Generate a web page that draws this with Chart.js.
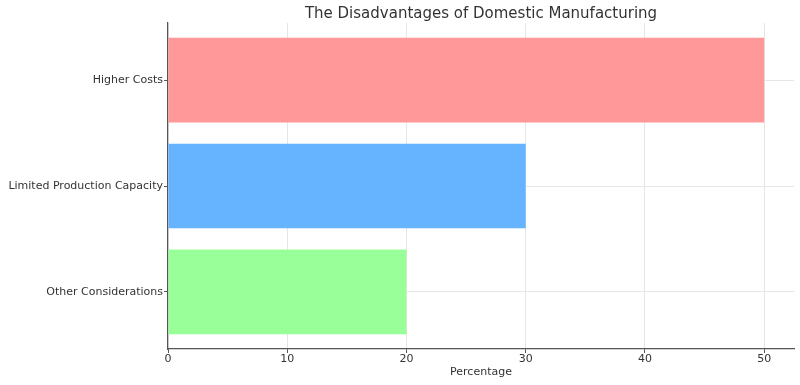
<!DOCTYPE html>
<html>
<head>
<meta charset="utf-8">
<script src="https://cdn.jsdelivr.net/npm/chart.js@4"></script>
<style>
  html, body { margin: 0; padding: 0; background: #fff; }
  #wrap { width: 800px; height: 385px; }
</style>
</head>
<body>
<div id="wrap"><canvas id="myChart" width="800" height="385"></canvas></div>
<script>
// reasons, top to bottom, and their share in percent
const categories = ['Higher Costs', 'Limited Production Capacity', 'Other Considerations'];
const percentages = [50, 30, 20];
const barColors = ['#ff9999', '#66b3ff', '#99ff99'];
const xTicks = [0, 10, 20, 30, 40, 50];

const textColor = '#333333';
const spineColor = '#555555';
const gridColor = '#e6e6e6';

// white background behind everything
const bgPlugin = {
  id: 'bg',
  beforeDraw(chart) {
    const ctx = chart.ctx;
    ctx.save();
    ctx.fillStyle = '#fff';
    ctx.fillRect(0, 0, chart.width, chart.height);
    ctx.restore();
  }
};

const ctx = document.getElementById('myChart').getContext('2d');
const myChart = new Chart(ctx, {
  type: 'bar',
  data: {
    datasets: [{
      data: percentages.map((v, i) => ({ x: v, y: i })),
      backgroundColor: barColors,
      borderWidth: 0,
      barPercentage: 0.8,
      categoryPercentage: 1
    }]
  },
  options: {
    indexAxis: 'y',
    responsive: false,
    animation: false,
    layout: { padding: { left: 0, right: 6, top: 0, bottom: 0 } },
    plugins: {
      legend: { display: false },
      tooltip: { enabled: false },
      title: {
        display: true,
        fullSize: false,
        text: 'The Disadvantages of Domestic Manufacturing',
        color: textColor,
        font: { family: 'DejaVu Sans', size: 15, weight: 'normal' },
        padding: { top: 5, bottom: 0 }
      }
    },
    scales: {
      x: {
        type: 'linear',
        min: 0,
        max: 52.5,
        afterBuildTicks: axis => { axis.ticks = xTicks.map(v => ({ value: v })); },
        afterFit: axis => { axis.height = 36; },
        ticks: {
          color: textColor,
          font: { family: 'DejaVu Sans', size: 11 },
          padding: 0,
          maxRotation: 0
        },
        grid: {
          color: gridColor,
          tickColor: spineColor,
          tickLength: 4
        },
        border: { color: spineColor, width: 1.2 },
        title: {
          display: true,
          text: 'Percentage',
          color: textColor,
          font: { family: 'DejaVu Sans', size: 11 },
          padding: { top: 0, bottom: 6 }
        }
      },
      y: {
        type: 'linear',
        reverse: true,
        offset: false,
        min: -0.54,
        max: 2.54,
        afterBuildTicks: axis => { axis.ticks = categories.map((c, i) => ({ value: i })); },
        afterFit: axis => { axis.width = 168; },
        ticks: {
          color: textColor,
          font: { family: 'DejaVu Sans', size: 11 },
          padding: 1,
          callback: v => categories[v]
        },
        grid: {
          offset: false,
          color: gridColor,
          tickColor: spineColor,
          tickLength: 4
        },
        border: { color: spineColor, width: 1.2 }
      }
    }
  },
  plugins: [bgPlugin]
});
</script>
</body>
</html>
